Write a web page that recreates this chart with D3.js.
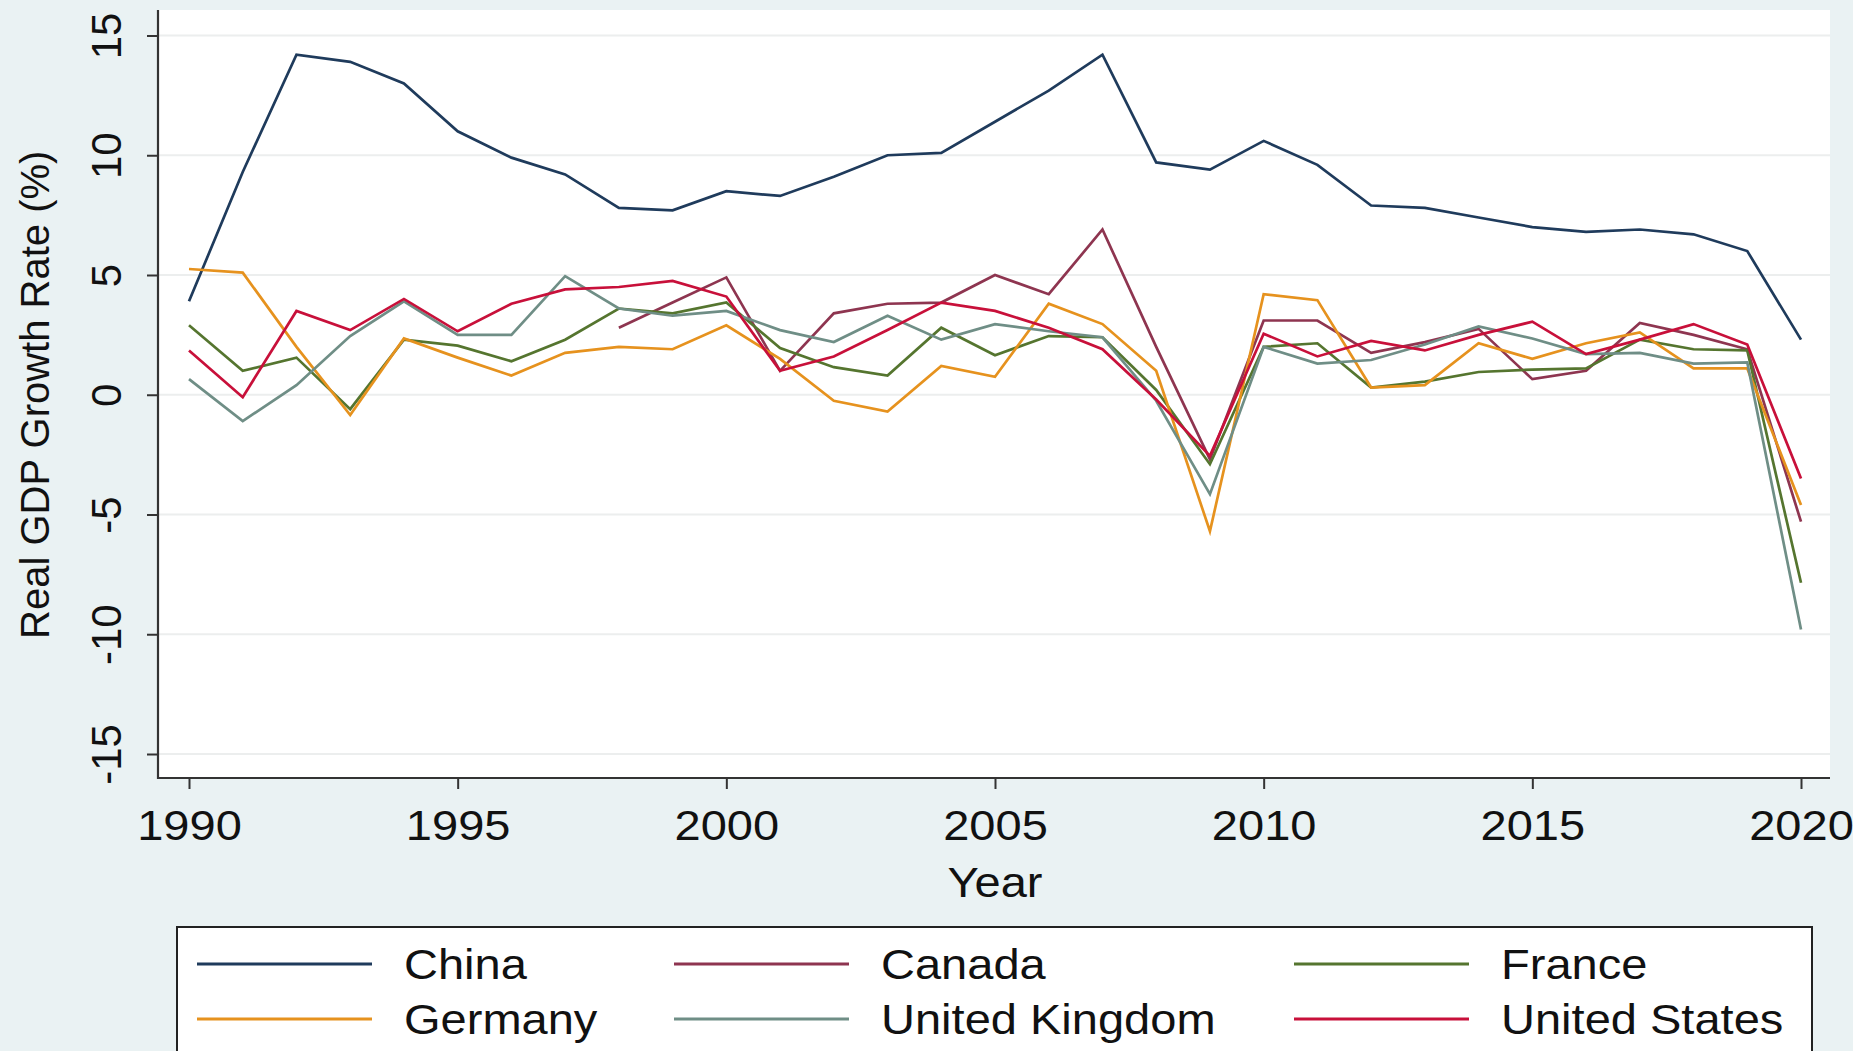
<!DOCTYPE html>
<html>
<head>
<meta charset="utf-8">
<script src="https://cdn.jsdelivr.net/npm/d3@7"></script>
<style>
  html, body { margin: 0; padding: 0; background: #eaf2f3; overflow: hidden; }
  svg { display: block; }
  text { font-family: "Liberation Sans", Arial, Helvetica, sans-serif; fill: #111; }
</style>
</head>
<body>
<svg id="chart" width="1853" height="1051"></svg>
<script>
// Real GDP growth rate (%), 1990–2020
const years = d3.range(1990, 2021);
const china   = [3.9, 9.3, 14.2, 13.9, 13.0, 11.0, 9.9, 9.2, 7.8, 7.7, 8.5, 8.3, 9.1, 10.0, 10.1, 11.4, 12.7, 14.2, 9.7, 9.4, 10.6, 9.6, 7.9, 7.8, 7.4, 7.0, 6.8, 6.9, 6.7, 6.0, 2.3];
const canada  = [null, null, null, null, null, null, null, null, 2.8, 3.85, 4.9, 1.0, 3.4, 3.8, 3.85, 5.0, 4.2, 6.9, 2.0, -2.7, 3.1, 3.1, 1.75, 2.2, 2.75, 0.65, 1.0, 3.0, 2.5, 1.9, -5.3];
const france  = [2.9, 1.0, 1.55, -0.6, 2.3, 2.05, 1.4, 2.3, 3.6, 3.4, 3.85, 1.95, 1.15, 0.8, 2.8, 1.65, 2.45, 2.4, 0.2, -2.9, 2.0, 2.15, 0.3, 0.55, 0.95, 1.05, 1.1, 2.3, 1.9, 1.85, -7.85];
const germany = [5.25, 5.1, 2.0, -0.85, 2.35, 1.55, 0.8, 1.75, 2.0, 1.9, 2.9, 1.5, -0.25, -0.7, 1.2, 0.75, 3.8, 2.95, 1.0, -5.7, 4.2, 3.95, 0.3, 0.4, 2.15, 1.5, 2.15, 2.6, 1.1, 1.1, -4.6];
const uk      = [0.65, -1.1, 0.4, 2.45, 3.9, 2.5, 2.5, 4.95, 3.6, 3.3, 3.5, 2.7, 2.2, 3.3, 2.3, 2.95, 2.65, 2.4, -0.25, -4.15, 2.0, 1.3, 1.45, 2.1, 2.85, 2.35, 1.7, 1.75, 1.3, 1.35, -9.8];
const us      = [1.85, -0.1, 3.5, 2.7, 4.0, 2.65, 3.8, 4.4, 4.5, 4.75, 4.1, 1.0, 1.6, 2.7, 3.85, 3.5, 2.8, 1.9, -0.2, -2.55, 2.55, 1.6, 2.25, 1.85, 2.5, 3.05, 1.7, 2.3, 2.95, 2.1, -3.5];

const seriesNames  = ["China", "Canada", "France", "Germany", "United Kingdom", "United States"];
const seriesValues = [china, canada, france, germany, uk, us];
const seriesColors = ["#1f3b5c", "#8e3550", "#55752f", "#e6921e", "#6f8e86", "#c8103a"];

const xTicks = [1990, 1995, 2000, 2005, 2010, 2015, 2020];
const yTicks = [-15, -10, -5, 0, 5, 10, 15];
const xTitle = "Year";
const yTitle = "Real GDP Growth Rate (%)";

const svg = d3.select("#chart");
const W = 1853, H = 1051;
const plot = { left: 158, right: 1830, top: 10, bottom: 778 };
const FONT = 42, STRETCH = 1.12;

svg.append("rect").attr("width", W).attr("height", H).attr("fill", "#eaf2f3");
svg.append("rect")
  .attr("x", plot.left).attr("y", plot.top)
  .attr("width", plot.right - plot.left).attr("height", plot.bottom - plot.top)
  .attr("fill", "#ffffff");

const x = d3.scaleLinear().domain([1990, 2020]).range([189, 1801]);
const y = d3.scaleLinear().domain([-15, 15]).range([754, 35.5]);

// horizontal gridlines
svg.append("g").selectAll("line").data(yTicks).join("line")
  .attr("x1", plot.left).attr("x2", plot.right)
  .attr("y1", d => y(d)).attr("y2", d => y(d))
  .attr("stroke", "#eceeee").attr("stroke-width", 2.2);

// series lines
const line = d3.line()
  .defined(d => d.v != null)
  .x(d => x(d.year))
  .y(d => y(d.v));

seriesValues.forEach((vals, i) => {
  svg.append("path")
    .datum(years.map((yr, j) => ({ year: yr, v: vals[j] })))
    .attr("d", line)
    .attr("fill", "none")
    .attr("stroke", seriesColors[i])
    .attr("stroke-width", 2.7)
    .attr("stroke-linejoin", "miter")
    .attr("stroke-linecap", "butt");
});

// y axis (plain hyphen for negative labels)
const yAxis = svg.append("g")
  .attr("transform", `translate(${plot.left},0)`)
  .call(d3.axisLeft(y).tickValues(yTicks).tickSize(11).tickSizeOuter(0).tickFormat(d => String(d)));
yAxis.select(".domain").remove();
yAxis.selectAll(".tick line").attr("stroke", "#333").attr("stroke-width", 2);
yAxis.selectAll(".tick text")
  .attr("x", null).attr("dy", null)
  .attr("transform", "translate(-52,0) rotate(-90)")
  .attr("text-anchor", "middle")
  .attr("dominant-baseline", "central")
  .attr("fill", "#111")
  .style("font-size", FONT + "px")
  .style("font-family", "'Liberation Sans', Arial, sans-serif");

// x axis
const xAxis = svg.append("g")
  .attr("transform", `translate(0,${plot.bottom})`)
  .call(d3.axisBottom(x).tickValues(xTicks).tickSize(11).tickSizeOuter(0).tickFormat(d => String(d)));
xAxis.select(".domain").remove();
xAxis.selectAll(".tick line").attr("stroke", "#333").attr("stroke-width", 2);
xAxis.selectAll(".tick text")
  .attr("y", null).attr("dy", null)
  .attr("transform", `translate(0,47) scale(${STRETCH},1)`)
  .attr("text-anchor", "middle")
  .attr("dominant-baseline", "central")
  .attr("fill", "#111")
  .style("font-size", FONT + "px")
  .style("font-family", "'Liberation Sans', Arial, sans-serif");

// axis lines
svg.append("line")
  .attr("x1", plot.left).attr("x2", plot.left)
  .attr("y1", plot.top).attr("y2", plot.bottom + 1)
  .attr("stroke", "#333").attr("stroke-width", 2.2);
svg.append("line")
  .attr("x1", plot.left - 1).attr("x2", plot.right)
  .attr("y1", plot.bottom).attr("y2", plot.bottom)
  .attr("stroke", "#333").attr("stroke-width", 2.2);

// axis titles
svg.append("text")
  .attr("transform", `translate(${x(2005)},882) scale(${STRETCH},1)`)
  .attr("text-anchor", "middle").attr("dominant-baseline", "central")
  .style("font-size", FONT + "px")
  .text(xTitle);
svg.append("text")
  .attr("transform", `translate(35,${y(0)}) rotate(-90)`)
  .attr("text-anchor", "middle").attr("dominant-baseline", "central")
  .style("font-size", "40px")
  .text(yTitle);

// legend
const legend = svg.append("g");
legend.append("rect")
  .attr("x", 177).attr("y", 927).attr("width", 1635).attr("height", 200)
  .attr("fill", "#ffffff").attr("stroke", "#222").attr("stroke-width", 2);

const colX = [197, 674, 1294];
const rowY = [964, 1019];
seriesNames.forEach((name, i) => {
  const cx = colX[i % 3], cy = rowY[Math.floor(i / 3)];
  legend.append("line")
    .attr("x1", cx).attr("x2", cx + 175)
    .attr("y1", cy).attr("y2", cy)
    .attr("stroke", seriesColors[i]).attr("stroke-width", 3);
  legend.append("text")
    .attr("transform", `translate(${cx + 207},${cy}) scale(${STRETCH},1)`)
    .attr("dominant-baseline", "central")
    .style("font-size", FONT + "px")
    .text(name);
});
</script>
</body>
</html>
